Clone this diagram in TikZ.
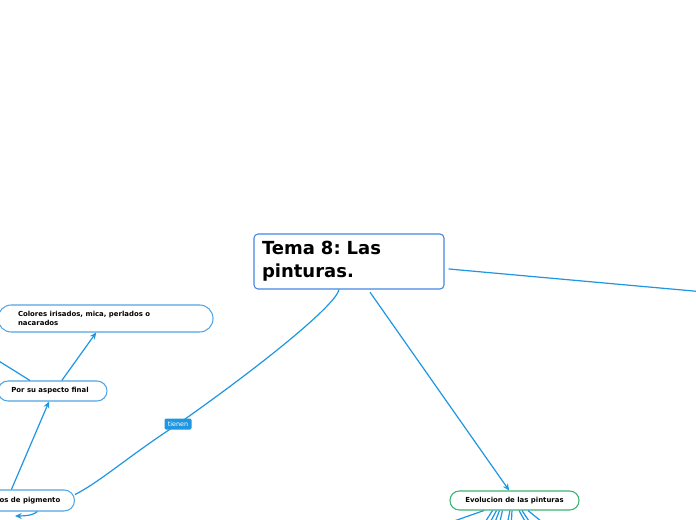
\documentclass[tikz,border=0pt]{standalone}
\usepackage{fontspec}
\setmainfont{DejaVu Sans}
\usetikzlibrary{arrows.meta,calc}
\definecolor{connc}{RGB}{30,150,226}
\definecolor{mainb}{RGB}{70,135,225}
\definecolor{pillb}{RGB}{80,165,230}
\definecolor{greenb}{RGB}{60,180,115}
\frenchspacing
\tikzset{
  conn/.style={draw=connc, line width=0.9pt},
  arr/.style={conn, -{Stealth[length=5pt,width=4.5pt]}},
  mainbox/.style={draw=mainb, line width=0.8pt, rounded corners=3pt, fill=white,
    minimum width=142.5pt, minimum height=41.25pt, text width=130.5pt, inner xsep=6pt,
    align=left, font=\fontsize{13.5pt}{17.25pt}\selectfont\bfseries},
  pill/.style={draw=pillb, line width=0.8pt, fill=white, align=flush left,
    font=\fontsize{5.2pt}{6.75pt}\selectfont\bfseries},
  tag/.style={fill=connc, text=white, rounded corners=1pt, minimum width=20.25pt,
    minimum height=8.25pt, inner sep=0pt, font=\fontsize{4.8pt}{5pt}\selectfont}
}
\begin{document}
\begin{tikzpicture}[x=0.75pt,y=-0.75pt]
\clip (0,0) rectangle (696,520);
\fill[white] (0,0) rectangle (696,520);

% nodes
\node[mainbox] (main) at (349,261.5) {Tema 8: Las\\pinturas.};
\node[pill, rounded corners=10pt, minimum width=161.25pt, minimum height=20.25pt,
  text width=131.25pt, inner xsep=15pt] (col) at (105.5,318.5)
  {Colores irisados, mica, perlados o\\nacarados};
\node[pill, rounded corners=7.5pt, minimum width=81.75pt, minimum height=15pt,
  text width=61.75pt, inner xsep=10pt] (por) at (52.5,391) {Por su aspecto final};
\node[pill, rounded corners=7.8pt, minimum width=75.75pt, minimum height=15.75pt,
  inner xsep=10.5pt, anchor=east] (tipos) at (75,500.5) {Tipos de pigmento};
\node[pill, draw=greenb, rounded corners=7pt, minimum width=96.75pt, minimum height=14.25pt,
  align=center] (evo) at (514.5,500.5) {Evolucion de las pinturas};

% free ends
\coordinate (tc) at (178,424);
\coordinate (offR) at (760,297);
\coordinate (offL) at (-20,349.3);
\coordinate (loopEnd) at (15,516);

% connectors
\draw[conn] ([xshift=-7.5pt]main.south) .. controls (336,305) and (262,365) .. (tc)
  .. controls (130,455) and (100,482) .. ([yshift=4.5pt]tipos.east);
\draw[arr] ([xshift=15.75pt,yshift=-2pt]main.south) -- ([xshift=-4pt]evo.north);
\draw[conn] ([xshift=3pt,yshift=-5.6pt]main.east) -- (offR);
\draw[arr] ([xshift=7pt]por.north) -- ([xshift=-7pt]col.south);
\draw[arr] ([xshift=-9.4pt]tipos.north) -- ([xshift=-2.6pt]por.south);
\draw[conn] (offL) -- ([xshift=-16.9pt]por.north);
\draw[arr] ([xshift=10pt]tipos.south) .. controls (34,515) and (26,516) .. (loopEnd);

% fan below Evolucion
\coordinate (f0) at (420,533);
\draw[conn] ([xshift=-22.9pt]evo.south) -- (f0);
\foreach \s/\ex in {-16.5/480, -13.5/486, -11.3/492, -9/498, -3.4/506, -1.9/511, 3.4/530, 5.6/535, 10.1/552}{
  \coordinate (fe) at (\ex,530);
  \draw[conn] ([xshift=\s pt]evo.south) -- (fe);
}

\node[tag] (tienen) at (tc) {tienen};
\end{tikzpicture}
\end{document}
